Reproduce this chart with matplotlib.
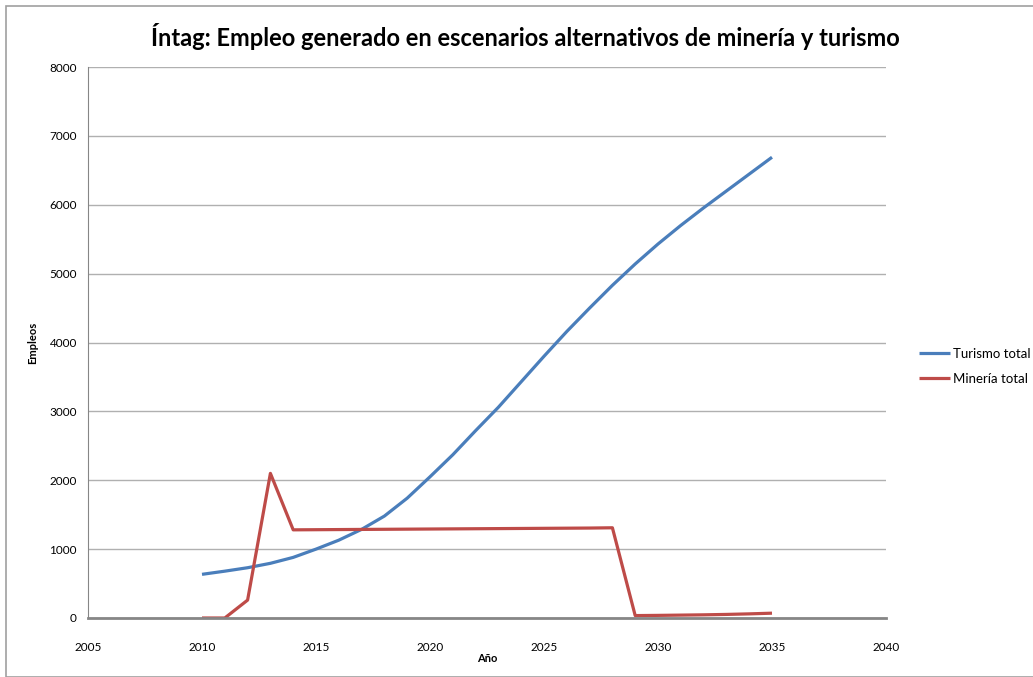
import matplotlib
matplotlib.use('Agg')
import matplotlib.pyplot as plt
from matplotlib.patches import Rectangle

plt.rcParams['font.family'] = ['Lato', 'DejaVu Sans']

years = list(range(2010, 2036))
turismo = [634, 680, 730, 794, 880, 1000, 1130, 1287, 1480, 1740, 2050,
           2370, 2720, 3060, 3430, 3800, 4160, 4500, 4830, 5140, 5430,
           5700, 5955, 6200, 6445, 6690]
mineria = [0, 0, 260, 2100, 1280, 1282, 1284, 1286, 1288, 1290, 1292,
           1294, 1296, 1298, 1300, 1302, 1304, 1306, 1310, 35, 38,
           42, 46, 52, 60, 70]
series_names = ['Turismo total', 'Minería total']
colors = ['#4a7ebb', '#be4b48']

fig = plt.figure(figsize=(10.33, 6.77), dpi=100)
ax = fig.add_axes([88/1033, 59/677, 798/1033, 551/677])

ax.plot(years, turismo, color=colors[0], lw=2.3, label=series_names[0], solid_capstyle='butt')
ax.plot(years, mineria, color=colors[1], lw=2.3, label=series_names[1], solid_capstyle='butt')

ax.set_xlim(2005, 2040)
ax.set_ylim(0, 8000)
ax.set_xticks(range(2005, 2041, 5))
ax.set_yticks(range(0, 8001, 1000))
ax.yaxis.grid(True, color='#b0b0b0', lw=1)
ax.set_axisbelow(True)
for s in ['top', 'right']:
    ax.spines[s].set_visible(False)
ax.spines['left'].set_color('#868686')
ax.spines['bottom'].set_color('#868686')
ax.spines['bottom'].set_linewidth(2)
ax.tick_params(length=0, labelsize=8.5, pad=8)
ax.tick_params(axis='x', pad=17)

ax.set_xlabel('Año', fontsize=8, fontweight='bold', labelpad=0)
ax.set_ylabel('Empleos', fontsize=8, fontweight='bold', labelpad=8)

fig.text(525/1033, 1 - 36/677, 'Íntag: Empleo generado en escenarios alternativos de minería y turismo',
         ha='center', va='center', fontsize=17, fontweight='bold')

ax.legend(loc='center left', bbox_to_anchor=(1.035, 0.457), frameon=False,
          borderaxespad=0, fontsize=9.5, handlelength=2.3, handletextpad=0.25,
          labelspacing=1.0)

fig.patches.append(Rectangle((6/1033, 0), 1.2, 1 - 6/677, transform=fig.transFigure,
                             fill=False, edgecolor='#a0a0a0', lw=1.2))

fig.savefig('out.png', dpi=100)
